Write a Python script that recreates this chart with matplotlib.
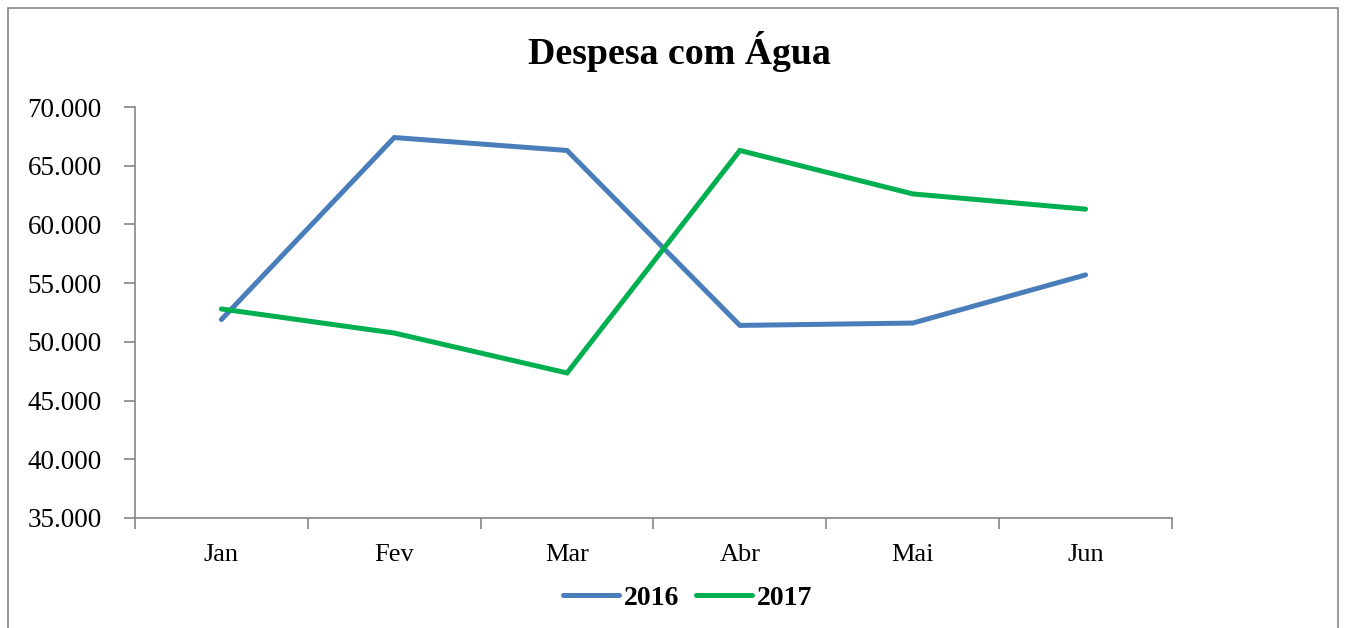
import matplotlib
matplotlib.use("Agg")
import matplotlib.pyplot as plt
from matplotlib.patches import Rectangle
from matplotlib.ticker import FuncFormatter

months = ["Jan", "Fev", "Mar", "Abr", "Mai", "Jun"]
y2016 = [51900, 67400, 66300, 51400, 51600, 55700]
y2017 = [52800, 50750, 47350, 66300, 62600, 61300]
yticks = [35000, 40000, 45000, 50000, 55000, 60000, 65000, 70000]

plt.rcParams['font.family'] = ['Liberation Serif', 'DejaVu Serif']

fig = plt.figure(figsize=(13.46, 6.28), dpi=100)
ax = fig.add_axes([0.1003, 0.1752, 0.7704, 0.6544])

x = list(range(len(months)))
ax.plot(x, y2016, color="#4A7EBB", lw=3.6, label="2016", solid_capstyle="round", solid_joinstyle="miter")
ax.plot(x, y2017, color="#00B050", lw=3.6, label="2017", solid_capstyle="round", solid_joinstyle="miter")

ax.set_xlim(-0.5, len(months) - 0.5)
ax.set_ylim(35000, 70000)
ax.set_yticks(yticks)
ax.yaxis.set_major_formatter(FuncFormatter(lambda v, p: f"{int(v):,}".replace(",", ".")))

ax.set_xticks([i - 0.5 for i in range(len(months) + 1)])
ax.set_xticklabels([])
ax.set_xticks(x, minor=True)
ax.set_xticklabels(months, minor=True)
ax.tick_params(axis="x", which="major", length=8, color="#868686", width=1.2, direction="out")
ax.tick_params(axis="x", which="minor", length=0, pad=19, labelsize=19)
ax.tick_params(axis="y", length=8, color="#868686", width=1.2, pad=16, labelsize=19.5)

for s in ["top", "right"]:
    ax.spines[s].set_visible(False)
for s in ["left", "bottom"]:
    ax.spines[s].set_color("#868686")
    ax.spines[s].set_linewidth(1.2)

fig.text(0.5046, 0.918, "Despesa com Água", ha="center", va="center",
         fontsize=27.3, fontweight="bold")

leg = fig.legend(loc="center", bbox_to_anchor=(0.5110, 0.047), ncol=2, frameon=False,
                 prop={"weight": "bold", "size": 20}, handlelength=2.0,
                 handletextpad=0.2, columnspacing=0.6)

fig.patches.append(Rectangle((8 / 1346, -0.05), (1338 - 8) / 1346, 1.05 - 8 / 628,
                             transform=fig.transFigure, fill=False,
                             edgecolor="#868686", lw=1.2))

fig.savefig("out.png", dpi=100)
